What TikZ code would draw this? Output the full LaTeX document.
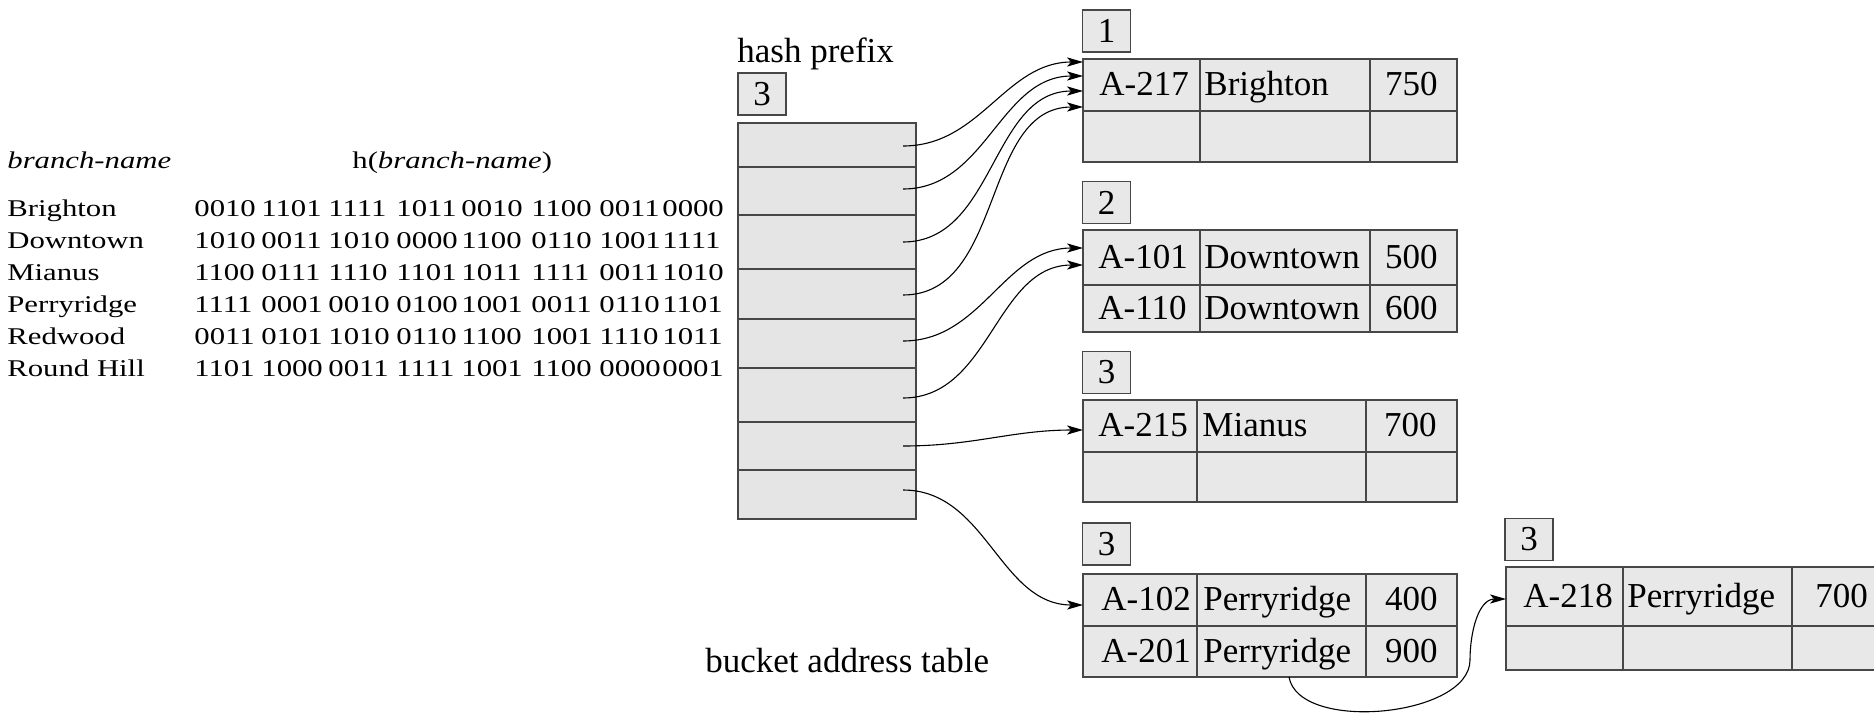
\documentclass[tikz,border=0pt]{standalone}
\usepackage{fontspec}
\setmainfont{Liberation Serif}
\usepackage{graphicx}
\usetikzlibrary{arrows.meta}

\newcommand{\bigtxt}{\fontsize{17.5}{20}\selectfont}
\newcommand{\smalltxt}{\fontsize{12}{14}\selectfont}
% the hash listing is set in a horizontally widened face
\newcommand{\wtxt}[1]{\scalebox{1.28}[1]{\smalltxt #1}}
% one line of the hash listing: baseline, id, branch name, eight 4-bit groups
\newcommand{\hrow}[4]{%
  \node[ltxt] (nm#2) at (7,-#1) {\wtxt{#3}};
  \foreach \g [count=\k from 0] in {#4} {%
    \pgfmathsetmacro\gx{{194,261,328,396,461,531,599,662}[\k]}
    \node[ltxt] (h#2-\k) at (\gx,-#1) {\wtxt{\g}};
  }%
}

\begin{document}
\begin{tikzpicture}[x=0.5pt,y=0.5pt,
  boxline/.style={draw=black!72, line width=0.9pt},
  cellbox/.style={boxline, fill=black!9, inner sep=0pt, outer sep=0pt},
  lbl/.style={cellbox, minimum width=24pt, minimum height=21pt, font=\bigtxt},
  txt/.style={inner sep=0pt, font=\bigtxt},
  ltxt/.style={inner sep=0pt, anchor=base west},
  ptr/.style={black, line width=0.55pt, -{Stealth[length=8pt,width=4.6pt,inset=2pt]}},
]
\useasboundingbox (0,0) rectangle (1874,-713);
\clip (0,0) rectangle (1874,-713);

% ---- hash values of the branch names ----
\node[ltxt] (hdA) at (7,-168) {\wtxt{\itshape branch-name}};
\node[ltxt] (hdB) at (352,-168) {\wtxt{h(\textit{branch-name})}};
\hrow{216}{1}{Brighton}{0010,1101,1111,1011,0010,1100,0011,0000}
\hrow{248}{2}{Downtown}{1010,0011,1010,0000,1100,0110,1001,1111}
\hrow{280}{3}{Mianus}{1100,0111,1110,1101,1011,1111,0011,1010}
\hrow{312}{4}{Perryridge}{1111,0001,0010,0100,1001,0011,0110,1101}
\hrow{344}{5}{Redwood}{0011,0101,1010,0110,1100,1001,1110,1011}
\hrow{376}{6}{Round Hill}{1101,1000,0011,1111,1001,1100,0000,0001}

% ---- bucket address table ----
\node[txt, anchor=base west] (hp) at (737,-62) {hash prefix};
\node[lbl] (tp) at (762,-94) {3};
\node[cellbox, fill=black!10, minimum width=89pt, minimum height=198pt] (tbl) at (827,-321) {};
\foreach \yy in {167,215,269,319,368,422,470}
  \draw[boxline] (738,-\yy) -- (916,-\yy);
\node[txt, anchor=base west] (bat) at (705,-672) {bucket address table};
\foreach \yy [count=\i] in {146,189,242,295,341,398,446,490}
  \coordinate (s\i) at (903,-\yy);

% ---- buckets ----
\node[lbl] (lb1) at (1106.5,-31) {1};
\node[cellbox, minimum width=187pt, minimum height=51.5pt] (bk1) at (1270,-110.5) {};
\draw[boxline] (1083,-111) -- (1457,-111) (1200,-59) -- (1200,-162) (1370,-59) -- (1370,-162);
\node[txt, anchor=base west] (c11) at (1099,-95) {A-217};
\node[txt, anchor=base west] (c12) at (1204,-95) {Brighton};
\node[txt, anchor=base east] (c13) at (1438,-95) {750};

\node[lbl] (lb2) at (1106.5,-202.5) {2};
\node[cellbox, minimum width=187pt, minimum height=51pt] (bk2) at (1270,-281) {};
\draw[boxline] (1083,-285) -- (1457,-285) (1200,-230) -- (1200,-332) (1370,-230) -- (1370,-332);
\node[txt, anchor=base west] (c21) at (1098,-268) {A-101};
\node[txt, anchor=base west] (c22) at (1204,-268) {Downtown};
\node[txt, anchor=base east] (c23) at (1438,-268) {500};
\node[txt, anchor=base west] (c24) at (1098,-319) {A-110};
\node[txt, anchor=base west] (c25) at (1204,-319) {Downtown};
\node[txt, anchor=base east] (c26) at (1438,-319) {600};

\node[lbl] (lb3) at (1106.5,-372.5) {3};
\node[cellbox, minimum width=187pt, minimum height=51pt] (bk3) at (1270,-451) {};
\draw[boxline] (1083,-452) -- (1457,-452) (1197,-400) -- (1197,-502) (1366,-400) -- (1366,-502);
\node[txt, anchor=base west] (c31) at (1098,-436) {A-215};
\node[txt, anchor=base west] (c32) at (1202,-436) {Mianus};
\node[txt, anchor=base east] (c33) at (1437,-436) {700};

\node[lbl] (lb4) at (1106.5,-544) {3};
\node[cellbox, minimum width=187pt, minimum height=51.5pt] (bk4) at (1270,-625.5) {};
\draw[boxline] (1083,-626) -- (1457,-626) (1197,-574) -- (1197,-677) (1366,-574) -- (1366,-677);
\node[txt, anchor=base west] (c41) at (1101,-610) {A-102};
\node[txt, anchor=base west] (c42) at (1203,-610) {Perryridge};
\node[txt, anchor=base east] (c43) at (1438,-610) {400};
\node[txt, anchor=base west] (c44) at (1101,-662) {A-201};
\node[txt, anchor=base west] (c45) at (1203,-662) {Perryridge};
\node[txt, anchor=base east] (c46) at (1438,-662) {900};

% overflow bucket, running past the right edge
\node[lbl] (lb5) at (1529,-539.5) {3};
\node[cellbox, minimum width=217pt, minimum height=51.5pt] (bk5) at (1723,-618.5) {};
\draw[boxline] (1506,-626) -- (1940,-626) (1623,-567) -- (1623,-670) (1792,-567) -- (1792,-670);
\node[txt, anchor=base west] (c51) at (1523,-607) {A-218};
\node[txt, anchor=base west] (c52) at (1627,-607) {Perryridge};
\node[txt, anchor=base west] (c53) at (1815,-607) {700};

% ---- pointers ----
\coordinate (a1) at (1083,-62);
\coordinate (a2) at (1083,-76);
\coordinate (a3) at (1083,-91);
\coordinate (a4) at (1083,-107);
\coordinate (a5) at (1083,-248);
\coordinate (a6) at (1083,-265);
\coordinate (a7) at (1083,-430);
\coordinate (a8) at (1083,-605);
\coordinate (a9) at (1506,-599);
\coordinate (ov) at (1289,-677);
\coordinate (w) at (1470,-660);
\foreach \i in {1,...,8}
  \draw[ptr] (s\i) to[out=0,in=180] (a\i);
\draw[ptr] (ov) to[out=-80,in=-90,looseness=0.8] (w) to[out=90,in=180] (a9);
\end{tikzpicture}
\end{document}
